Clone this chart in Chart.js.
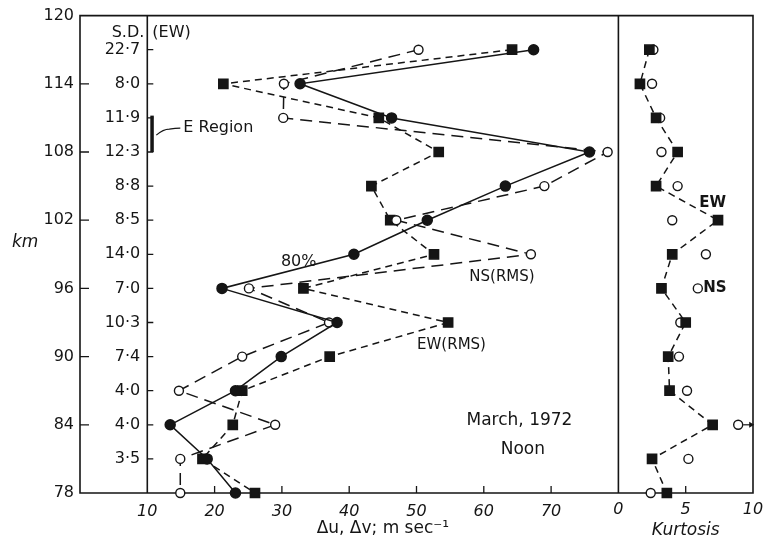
<!DOCTYPE html>
<html>
<head>
<meta charset="utf-8">
<script src="https://cdn.jsdelivr.net/npm/chart.js@4.4.0/dist/chart.umd.min.js"></script>
<style>
  html, body { margin: 0; padding: 0; background: #fff; }
  #wrap { width: 763px; height: 551px; }
</style>
</head>
<body>
<div id="wrap"><canvas id="chart"></canvas></div>
<script>
// altitude levels (km), top to bottom
const kmLevels = [117, 114, 111, 108, 105, 102, 99, 96, 93, 90, 87, 84, 81, 78];
// S.D. (EW) column, one per level (none at 78)
const sdLabels = ['22·7', '8·0', '11·9', '12·3', '8·8', '8·5', '14·0', '7·0', '10·3', '7·4', '4·0', '4·0', '3·5', ''];

// wind fluctuation, m/s
const pct80 = [67.4, 32.7, 46.3, 75.7, 63.2, 51.6, 40.7, 21.1, 38.2, 29.9, 23.1, 13.4, 18.9, 23.1];
const nsRms = [50.3, 30.3, 30.2, 78.4, 69.0, 47.0, 67.0, 25.1, 37.0, 24.1, 14.7, 29.0, 14.9, 14.9];
const ewRms = [64.2, 21.3, 44.4, 53.3, 43.3, 46.1, 52.6, 33.2, 54.7, 37.1, 24.1, 22.7, 18.2, 26.0];

// kurtosis
const kurtEW = [2.3, 1.6, 2.8, 4.4, 2.8, 7.4, 4.0, 3.2, 5.0, 3.7, 3.8, 7.0, 2.5, 3.6];
const kurtNS = [2.6, 2.5, 3.1, 3.2, 4.4, 4.0, 6.5, 5.9, 4.6, 4.5, 5.1, 8.9, 5.2, 2.4];

const kmTicks = [78, 84, 90, 96, 102, 108, 114, 120];
const speedTicks = [10, 20, 30, 40, 50, 60, 70];
const kurtTicks = [0, 5, 10];

const INK = '#151515';
const FONT = '"DejaVu Sans", sans-serif';

const toPoints = vals => vals.map((v, i) => ({ x: v, y: kmLevels[i] }));

// frame, inside ticks, S.D. column and the notes
const framePlugin = {
    id: 'frame',
    beforeDatasetsDraw(chart) {
        const { ctx, chartArea: a } = chart;
        const { x, y, xk } = chart.scales;
        const sdX = x.getPixelForValue(10);
        const divX = x.getPixelForValue(80);

        ctx.save();
        ctx.strokeStyle = INK;
        ctx.lineWidth = 1.6;
        ctx.beginPath();
        ctx.rect(a.left, a.top, a.width, a.height);
        ctx.moveTo(sdX, a.top);
        ctx.lineTo(sdX, a.bottom);
        ctx.moveTo(divX, a.top);
        ctx.lineTo(divX, a.bottom);
        ctx.stroke();

        ctx.lineWidth = 1.3;
        ctx.beginPath();
        kmTicks.slice(1, -1).forEach(v => {
            const py = y.getPixelForValue(v);
            ctx.moveTo(a.left, py);
            ctx.lineTo(a.left + 9, py);
        });
        kmLevels.slice(0, -1).forEach(v => {
            const py = y.getPixelForValue(v);
            ctx.moveTo(sdX, py);
            ctx.lineTo(sdX + 6, py);
        });
        speedTicks.slice(1).forEach(v => {
            const px = x.getPixelForValue(v);
            ctx.moveTo(px, a.bottom);
            ctx.lineTo(px, a.bottom - 7);
        });
        kurtTicks.slice(1, -1).forEach(v => {
            const px = xk.getPixelForValue(v);
            ctx.moveTo(px, a.bottom);
            ctx.lineTo(px, a.bottom - 7);
        });
        ctx.stroke();

        // E region bracket
        const eTop = y.getPixelForValue(111.2);
        const eBot = y.getPixelForValue(108);
        ctx.fillStyle = INK;
        ctx.fillRect(sdX + 3, eTop, 3.5, eBot - eTop);
        ctx.lineWidth = 1.2;
        ctx.beginPath();
        const ly = y.getPixelForValue(110.1);
        ctx.moveTo(sdX + 9, ly + 7);
        ctx.quadraticCurveTo(sdX + 16, ly + 1, sdX + 22, ly + 1);
        ctx.quadraticCurveTo(sdX + 28, ly, sdX + 33, ly);
        ctx.stroke();
        ctx.restore();
    },
    afterDatasetsDraw(chart) {
        const { ctx, chartArea: a } = chart;
        const { x, y, xk } = chart.scales;
        const sdX = x.getPixelForValue(10);

        ctx.save();
        ctx.fillStyle = INK;
        ctx.strokeStyle = INK;
        ctx.font = '16px ' + FONT;
        ctx.textBaseline = 'middle';

        // S.D. column
        ctx.textAlign = 'right';
        kmLevels.forEach((v, i) => {
            if (sdLabels[i]) ctx.fillText(sdLabels[i], sdX - 7, y.getPixelForValue(v));
        });
        ctx.fillText('S.D.', sdX - 3, a.top + 17);
        ctx.textAlign = 'left';
        ctx.fillText('(EW)', sdX + 5, a.top + 17);
        ctx.fillText('E Region', sdX + 36, y.getPixelForValue(110.1));

        // km
        ctx.font = 'italic 17px ' + FONT;
        ctx.fillText('km', 12, y.getPixelForValue(100));

        // notes in the panels
        ctx.textAlign = 'center';
        ctx.font = '16px ' + FONT;
        ctx.fillText('80%', x.getPixelForValue(32.5), y.getPixelForValue(98.3));
        ctx.font = '15px ' + FONT;
        ctx.fillText('NS(RMS)', x.getPixelForValue(62.7), y.getPixelForValue(97.0));
        ctx.fillText('EW(RMS)', x.getPixelForValue(55.2), y.getPixelForValue(91.0));
        ctx.font = '17px ' + FONT;
        ctx.fillText('March, 1972', x.getPixelForValue(65.3), y.getPixelForValue(84.4));
        ctx.fillText('Noon', x.getPixelForValue(65.8), y.getPixelForValue(81.8));
        ctx.font = 'bold 15px ' + FONT;
        ctx.fillText('EW', xk.getPixelForValue(7.0), y.getPixelForValue(103.5));
        ctx.textAlign = 'left';
        ctx.fillText('NS', xk.getPixelForValue(6.3), y.getPixelForValue(96.0));

        // off-scale arrow on the 84 km NS kurtosis point
        const ax = xk.getPixelForValue(kurtNS[11]) + 5;
        const ay = y.getPixelForValue(84);
        ctx.lineWidth = 1.2;
        ctx.beginPath();
        ctx.moveTo(ax, ay);
        ctx.lineTo(ax + 8, ay);
        ctx.stroke();
        ctx.beginPath();
        ctx.moveTo(ax + 11, ay);
        ctx.lineTo(ax + 6, ay - 3);
        ctx.lineTo(ax + 6, ay + 3);
        ctx.closePath();
        ctx.fill();

        // kurtosis ticks + axis titles
        ctx.textAlign = 'center';
        ctx.textBaseline = 'top';
        ctx.font = 'italic 16px ' + FONT;
        kurtTicks.forEach(v => ctx.fillText(String(v), xk.getPixelForValue(v), a.bottom + 9));
        ctx.textBaseline = 'middle';
        ctx.font = '17px ' + FONT;
        ctx.fillText('Δu, Δv; m sec⁻¹', x.getPixelForValue(45), a.bottom + 36);
        ctx.font = 'italic 17px ' + FONT;
        ctx.fillText('Kurtosis', xk.getPixelForValue(5), a.bottom + 38);
        ctx.restore();
    }
};

const ctx = document.getElementById('chart').getContext('2d');
new Chart(ctx, {
    type: 'scatter',
    data: {
        datasets: [
            {
                label: '80%',
                data: toPoints(pct80),
                showLine: true,
                borderColor: INK,
                borderWidth: 1.5,
                pointStyle: 'circle',
                pointRadius: 5,
                pointBackgroundColor: INK,
                pointBorderColor: INK,
                xAxisID: 'x'
            },
            {
                label: 'NS(RMS)',
                data: toPoints(nsRms),
                showLine: true,
                borderColor: INK,
                borderWidth: 1.5,
                borderDash: [12, 7],
                pointStyle: 'circle',
                pointRadius: 4.5,
                pointBorderWidth: 1.4,
                pointBackgroundColor: '#fff',
                pointBorderColor: INK,
                xAxisID: 'x'
            },
            {
                label: 'EW(RMS)',
                data: toPoints(ewRms),
                showLine: true,
                borderColor: INK,
                borderWidth: 1.5,
                borderDash: [7, 5],
                pointStyle: 'rect',
                pointRadius: 6.5,
                pointBackgroundColor: INK,
                pointBorderColor: INK,
                xAxisID: 'x'
            },
            {
                label: 'Kurtosis EW',
                data: toPoints(kurtEW),
                showLine: true,
                borderColor: INK,
                borderWidth: 1.5,
                borderDash: [7, 5],
                pointStyle: 'rect',
                pointRadius: 6.5,
                pointBackgroundColor: INK,
                pointBorderColor: INK,
                xAxisID: 'xk'
            },
            {
                label: 'Kurtosis NS',
                data: toPoints(kurtNS),
                showLine: false,
                pointStyle: 'circle',
                pointRadius: 4.5,
                pointBorderWidth: 1.4,
                pointBackgroundColor: '#fff',
                pointBorderColor: INK,
                xAxisID: 'xk'
            }
        ]
    },
    options: {
        responsive: true,
        maintainAspectRatio: false,
        animation: false,
        clip: false,
        layout: {
            padding: { top: 15, right: 10, left: 0, bottom: 0 }
        },
        plugins: {
            legend: { display: false },
            tooltip: { enabled: false }
        },
        scales: {
            x: {
                type: 'linear',
                position: 'bottom',
                min: 0,
                max: 100,
                afterBuildTicks: axis => {
                    axis.ticks = speedTicks.map(v => ({ value: v }));
                },
                afterFit: axis => {
                    axis.height = 58;
                },
                grid: { display: false, drawTicks: false },
                border: { display: false },
                ticks: {
                    color: INK,
                    padding: 9,
                    maxRotation: 0,
                    autoSkip: false,
                    font: { family: FONT, size: 16, style: 'italic' }
                }
            },
            // kurtosis scale: 0..10 across the right-hand panel
            xk: {
                type: 'linear',
                display: false,
                min: -40,
                max: 10
            },
            y: {
                type: 'linear',
                position: 'left',
                min: 78,
                max: 120,
                afterBuildTicks: axis => {
                    axis.ticks = kmTicks.map(v => ({ value: v }));
                },
                afterFit: axis => {
                    axis.width = 80;
                },
                grid: { display: false, drawTicks: false },
                border: { display: false },
                ticks: {
                    color: INK,
                    padding: 6,
                    autoSkip: false,
                    font: { family: FONT, size: 16 }
                }
            }
        }
    },
    plugins: [framePlugin]
});
</script>
</body>
</html>
